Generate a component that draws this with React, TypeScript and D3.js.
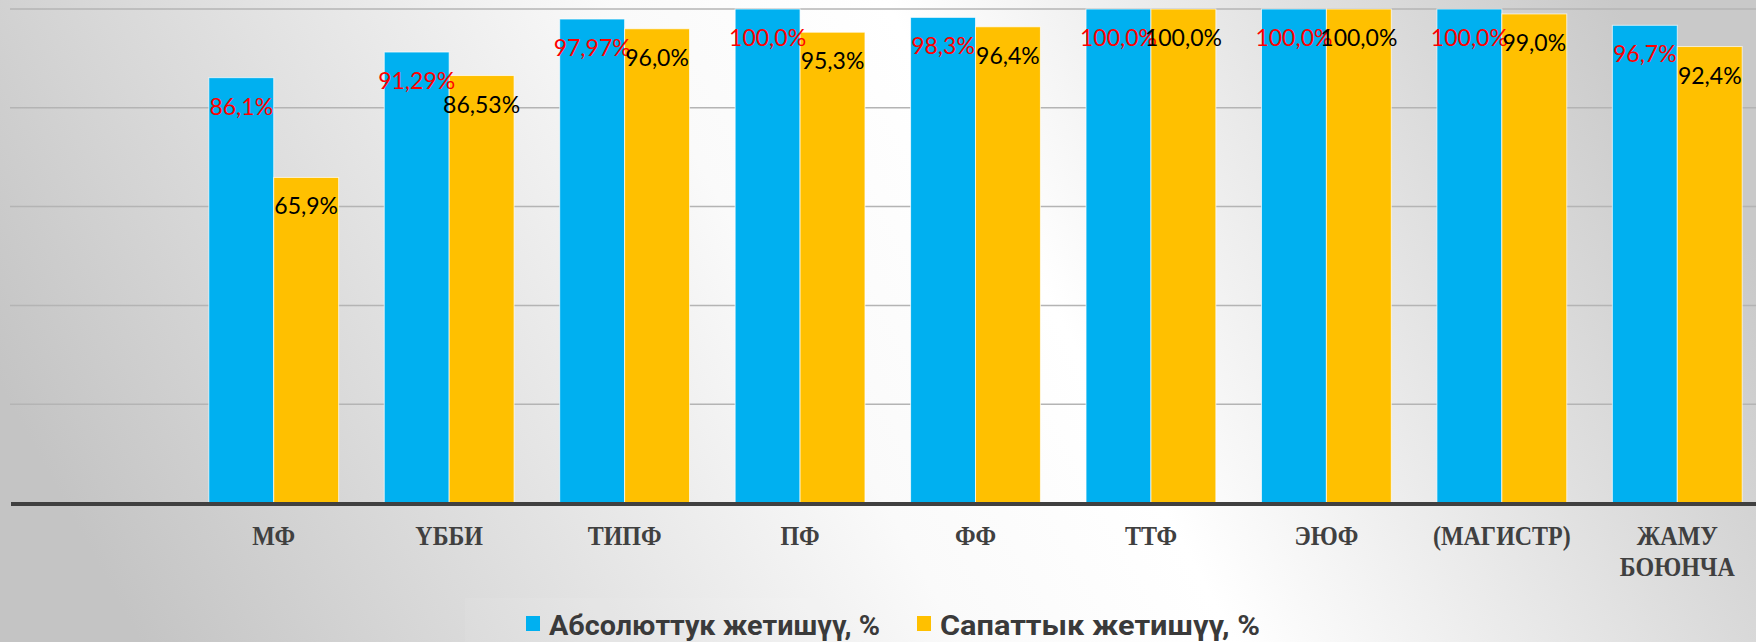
import React from 'react'
import { scaleBand, scaleLinear } from 'd3'

// faculties (x axis), the last one is written on two lines
const categories = ['МФ', 'ҮББИ', 'ТИПФ', 'ПФ', 'ФФ', 'ТТФ', 'ЭЮФ', '(МАГИСТР)', 'ЖАМУ БОЮНЧА']
const absolute = [86.1, 91.29, 97.97, 100.0, 98.3, 100.0, 100.0, 100.0, 96.7]
const quality = [65.9, 86.53, 96.0, 95.3, 96.4, 100.0, 100.0, 99.0, 92.4]
const absoluteLabels = ['86,1%', '91,29%', '97,97%', '100,0%', '98,3%', '100,0%', '100,0%', '100,0%', '96,7%']
const qualityLabels = ['65,9%', '86,53%', '96,0%', '95,3%', '96,4%', '100,0%', '100,0%', '99,0%', '92,4%']
const seriesNames = ['Абсолюттук жетишүү, %', 'Сапаттык жетишүү, %']
const gridTicks = [20, 40, 60, 80, 100]

export default function App() {
  const width = 1756
  const height = 642

  const x = scaleBand<string>()
    .domain(categories)
    .range([186, 1765])
    .paddingInner(0.26)
    .paddingOuter(0.13)

  const inner = scaleBand<number>()
    .domain([0, 1])
    .range([0, x.bandwidth()])

  const y = scaleLinear().domain([0, 100]).range([503, 9])

  const series = [
    { values: absolute, labels: absoluteLabels, color: '#00B0F0', text: '#FF0000' },
    { values: quality, labels: qualityLabels, color: '#FFC000', text: '#000000' },
  ]

  const legendX = [526, 917]
  const legendW = [331, 320]

  return (
    <div style={{ position: 'absolute', left: 0, top: 0 }}>
      <svg width={width} height={height} style={{ display: 'block' }}>
        <defs>
          <linearGradient id="bg" x1="0" y1="0.6" x2="1" y2="0.4">
            <stop offset="0" stopColor="#c4c4c4" />
            <stop offset="0.45" stopColor="#fafafa" />
            <stop offset="0.6" stopColor="#ffffff" />
            <stop offset="1" stopColor="#c9c9c9" />
          </linearGradient>
        </defs>
        <rect width={width} height={height} fill="url(#bg)" />
        <rect x={465} y={598} width={844} height={44} fill="#ffffff" opacity={0.07} />

        {gridTicks.map(t => (
          <line key={t} x1={10} x2={width} y1={y(t)} y2={y(t)} stroke="#b4b4b4" strokeWidth={1.5} />
        ))}

        {series.map((s, si) =>
          categories.map((c, i) => {
            const bx = (x(c) as number) + (inner(si) as number)
            const bw = inner.bandwidth()
            const top = y(s.values[i])
            return (
              <rect key={`${si}-${c}`} x={bx} y={top} width={bw} height={y(0) - top} fill={s.color}
                stroke="#ffffff" strokeOpacity={0.7} strokeWidth={1} />
            )
          })
        )}

        {series.map((s, si) =>
          categories.map((c, i) => {
            const bx = (x(c) as number) + (inner(si) as number) + inner.bandwidth() / 2
            return (
              <text key={`l${si}-${c}`} x={bx} y={y(s.values[i]) + 28} textAnchor="middle"
                dominantBaseline="central" fontFamily="Lato, 'Open Sans', sans-serif" fontSize={23}
                fill={s.text}>
                {s.labels[i]}
              </text>
            )
          })
        )}

        <line x1={11} x2={width} y1={504} y2={504} stroke="#404040" strokeWidth={4} />

        {categories.map(c => {
          const cx = (x(c) as number) + x.bandwidth() / 2
          const lines = c.split(' ')
          return (
            <text key={c} transform={`translate(${cx},545) scale(1,1.12)`} textAnchor="middle"
              fontFamily="'Liberation Serif', 'Times New Roman', serif" fontWeight="bold"
              fontSize={24} fill="#404040">
              {lines.map((ln, k) => (
                <tspan key={k} x={0} dy={k === 0 ? 0 : 28}>{ln}</tspan>
              ))}
            </text>
          )
        })}

        {seriesNames.map((n, i) => (
          <g key={n}>
            <rect x={legendX[i]} y={616} width={14} height={15} fill={series[i].color} />
            <text x={legendX[i] + 23} y={635} fontFamily="Roboto, 'Open Sans', sans-serif"
              fontWeight="bold" fontSize={28} fill="#3a3a3a"
              textLength={legendW[i]} lengthAdjust="spacingAndGlyphs">
              {n}
            </text>
          </g>
        ))}
      </svg>
    </div>
  )
}
